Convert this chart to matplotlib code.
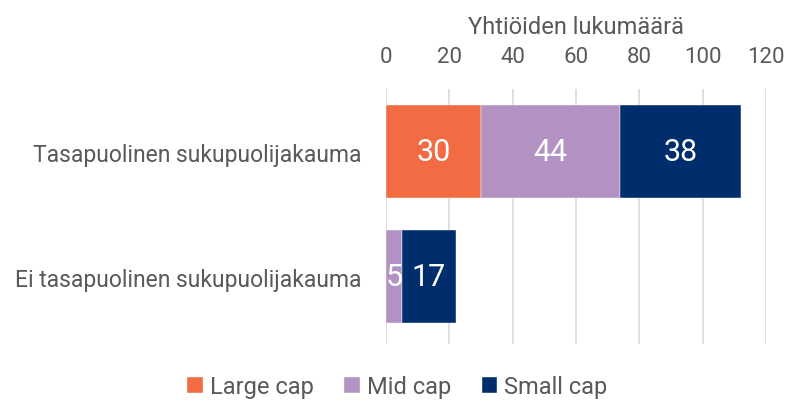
from matplotlib import pyplot as plt
import numpy as np

plt.rcParams['font.family'] = ['Roboto', 'DejaVu Sans']

categories = ["Tasapuolinen sukupuolijakauma", "Ei tasapuolinen sukupuolijakauma"]
series_names = ["Large cap", "Mid cap", "Small cap"]
large_cap = [30, 0]
mid_cap = [44, 5]
small_cap = [38, 17]
colors = ["#F26B43", "#B192C3", "#002D6C"]
xticks = [0, 20, 40, 60, 80, 100, 120]

gray = "#595959"

fig = plt.figure(figsize=(7.87, 4.10), dpi=100)
ax = fig.add_axes([0.4905, 0.159, 0.4828, 0.622])

y = np.arange(len(categories))
left = np.zeros(len(categories))
for name, vals, c in zip(series_names, [large_cap, mid_cap, small_cap], colors):
    vals = np.array(vals)
    bars = ax.barh(y, vals, left=left, height=0.744, color=c, label=name,
                   edgecolor="white", linewidth=0.3, zorder=3)
    for b, v in zip(bars, vals):
        if v > 0:
            ax.text(b.get_x() + b.get_width() / 2, b.get_y() + b.get_height() / 2, str(v),
                    ha="center", va="center", color="white", fontsize=22)
    left += vals

ax.set_xlim(0, 120)
ax.set_ylim(1.536, -0.504)
ax.set_xticks(xticks)
ax.xaxis.tick_top()
ax.xaxis.set_label_position("top")
ax.set_xlabel("Yhtiöiden lukumäärä", color=gray, fontsize=17, labelpad=9)
ax.tick_params(axis="x", length=0, labelsize=16, labelcolor=gray, pad=16)
ax.set_yticks(y)
ax.set_yticklabels(categories)
ax.tick_params(axis="y", length=0, labelsize=16.5, labelcolor=gray, pad=18)
ax.grid(axis="x", color="#D9D9D9", linewidth=1.2, zorder=0)
for s in ax.spines.values():
    s.set_visible(False)

fig.legend(loc="lower center", bbox_to_anchor=(0.505, -0.025), ncol=3, frameon=False,
           fontsize=17, labelcolor=gray, handlelength=0.65, handleheight=0.65,
           handletextpad=0.3, columnspacing=1.3)

plt.savefig("out.png", dpi=100)
